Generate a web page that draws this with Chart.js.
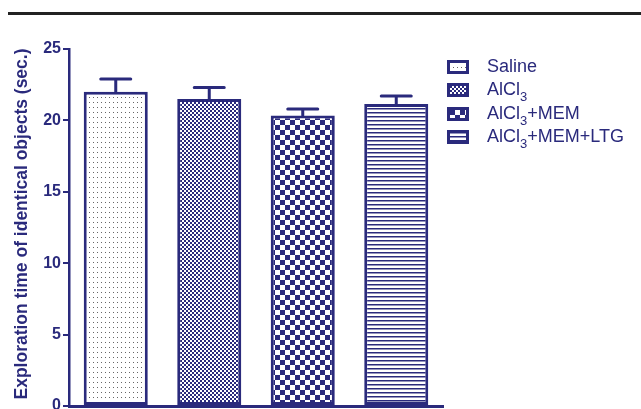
<!DOCTYPE html>
<html>
<head>
<meta charset="utf-8">
<script src="https://cdn.jsdelivr.net/npm/chart.js@4"></script>
<style>
  html, body { margin: 0; padding: 0; background: #fff; }
  #wrap { position: relative; width: 641px; height: 409px; overflow: hidden; }
  #rule { position: absolute; left: 8px; right: 0; top: 12px; height: 3px; background: #222; }
  #chart { position: absolute; left: 0; top: 0; }
</style>
</head>
<body>
<div id="wrap">
  <div id="rule"></div>
  <canvas id="chart" width="641" height="409"></canvas>
</div>
<script>
// ---------------- DATA ----------------
const groups = ['Saline', 'AlCl3', 'AlCl3+MEM', 'AlCl3+MEM+LTG'];
const meanTime = [22.0, 21.5, 20.35, 21.15];
const semTime = [0.9, 0.8, 0.45, 0.55];
const yTicks = [0, 5, 10, 15, 20, 25];
const yTitle = 'Exploration time of identical objects (sec.)';

const NAVY = '#2a2a7c';
const FONT = "'Liberation Sans', Arial, sans-serif";

// ---------------- FILL PATTERNS ----------------
function makePattern(w, h, paint) {
  const c = document.createElement('canvas');
  c.width = w;
  c.height = h;
  const g = c.getContext('2d');
  g.fillStyle = '#fff';
  g.fillRect(0, 0, w, h);
  g.fillStyle = NAVY;
  paint(g);
  return g.createPattern(c, 'repeat');
}

const fills = [
  // sparse grey dots
  makePattern(4, 5, g => { g.fillStyle = '#666'; g.fillRect(1, 2, 1, 1); }),
  // fine checker
  makePattern(4, 4, g => { g.fillRect(0, 0, 2, 2); g.fillRect(2, 2, 2, 2); }),
  // coarse checker
  makePattern(10, 10, g => { g.fillRect(0, 0, 5, 5); g.fillRect(5, 5, 5, 5); }),
  // horizontal lines
  makePattern(4, 4, g => { g.fillRect(0, 0, 4, 1.5); })
];

// ---------------- PLUGINS ----------------
// SEM whiskers above each bar
const errorBars = {
  id: 'errorBars',
  afterDatasetsDraw(chart) {
    const ctx = chart.ctx;
    const y = chart.scales.y;
    chart.getDatasetMeta(0).data.forEach((bar, i) => {
      const top = y.getPixelForValue(meanTime[i] + semTime[i]);
      ctx.save();
      ctx.strokeStyle = NAVY;
      ctx.lineWidth = 3;
      ctx.lineCap = 'round';
      ctx.beginPath();
      ctx.moveTo(bar.x, bar.y);
      ctx.lineTo(bar.x, top);
      ctx.moveTo(bar.x - 15, top);
      ctx.lineTo(bar.x + 15, top);
      ctx.stroke();
      ctx.restore();
    });
  }
};

// rotated y axis title
const axisTitle = {
  id: 'axisTitle',
  afterDraw(chart) {
    const ctx = chart.ctx;
    ctx.save();
    ctx.translate(22, 224);
    ctx.rotate(-Math.PI / 2);
    ctx.fillStyle = NAVY;
    ctx.font = 'bold 17.5px ' + FONT;
    ctx.textAlign = 'center';
    ctx.textBaseline = 'middle';
    ctx.fillText(yTitle, 0, 0);
    ctx.restore();
  }
};

// legend on the right, "Cl3" written with a subscript 3
const sideLegend = {
  id: 'sideLegend',
  afterDraw(chart) {
    const ctx = chart.ctx;
    const rowY = [67, 90, 114, 137];
    ctx.save();
    groups.forEach((name, i) => {
      const y = rowY[i];
      ctx.fillStyle = fills[i];
      ctx.fillRect(447, y - 7, 22, 14);
      ctx.strokeStyle = NAVY;
      ctx.lineWidth = 3;
      ctx.strokeRect(448.5, y - 5.5, 19, 11);

      ctx.fillStyle = NAVY;
      ctx.textBaseline = 'middle';
      ctx.textAlign = 'left';
      let x = 487;
      const parts = name.split('3');
      parts.forEach((part, k) => {
        ctx.font = '18px ' + FONT;
        ctx.fillText(part, x, y);
        x += ctx.measureText(part).width;
        if (k < parts.length - 1) {
          ctx.font = '13px ' + FONT;
          ctx.fillText('3', x, y + 7);
          x += ctx.measureText('3').width;
        }
      });
    });
    ctx.restore();
  }
};

// ---------------- CHART ----------------
new Chart(document.getElementById('chart'), {
  type: 'bar',
  data: {
    labels: groups,
    datasets: [{
      data: meanTime,
      backgroundColor: fills,
      borderColor: NAVY,
      borderWidth: 3,
      borderSkipped: false,
      barPercentage: 0.685,
      categoryPercentage: 1
    }]
  },
  options: {
    responsive: false,
    animation: false,
    layout: { padding: { top: 49, right: 198, left: 0, bottom: 0 } },
    plugins: { legend: { display: false }, tooltip: { enabled: false } },
    scales: {
      x: {
        grid: { display: false },
        border: { color: NAVY, width: 3 },
        ticks: { display: false },
        afterFit: s => { s.height = 3; }
      },
      y: {
        min: 0,
        max: 25,
        afterBuildTicks: s => { s.ticks = yTicks.map(v => ({ value: v })); },
        grid: { drawOnChartArea: false, color: NAVY, lineWidth: 2, tickLength: 6 },
        border: { color: NAVY, width: 2.5 },
        ticks: { color: NAVY, font: { family: FONT, size: 16, weight: 'bold' }, padding: 2 },
        // the zero label may run off the bottom edge, so no room is kept for it
        afterFit: s => { s.width = 69; s.paddingTop = 0; s.paddingBottom = 0; }
      }
    }
  },
  plugins: [errorBars, axisTitle, sideLegend]
});
</script>
</body>
</html>
